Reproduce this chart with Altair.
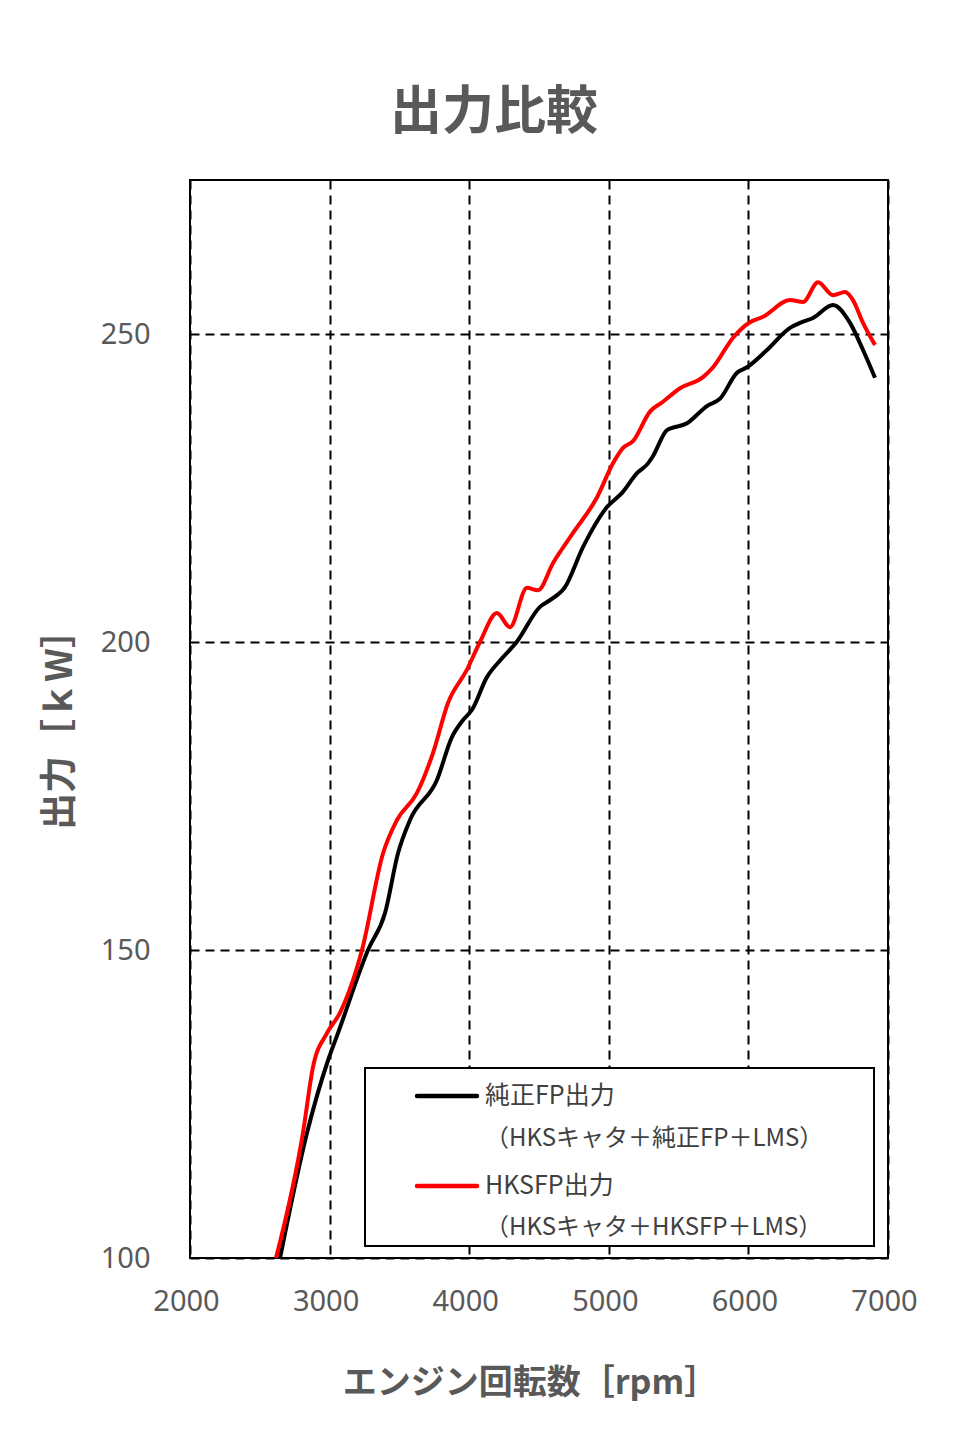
import altair as alt
import pandas as pd

# Black: 純正FP出力
rpm_std = [2645, 2838, 2989, 3060, 3275, 3397, 3490, 3576, 3769, 3877, 3955, 4020,
           4127, 4221, 4340, 4507, 4579, 4686, 4815, 4987, 5095, 5202, 5281, 5317,
           5417, 5560, 5703, 5797, 5918, 5990, 6133, 6298, 6370, 6463, 6606, 6728,
           6821, 6907]
kw_std = [100, 120.3, 132.1, 136.5, 150, 156, 165.7, 171.1, 177.6, 184.6, 187.3, 189,
          194.3, 197, 200, 205.7, 206.8, 208.9, 215.4, 221.9, 224.2, 227.4, 229, 230.2,
          234.4, 235.5, 238.3, 239.5, 243.7, 244.6, 247.4, 251, 251.8, 252.6, 254.7, 251.8,
          247.4, 242.9]

# Red: HKSFP出力
rpm_hks = [2616, 2809, 2881, 2981, 3074, 3232, 3383, 3483, 3626, 3741, 3848, 3984,
           4077, 4199, 4292, 4414, 4493, 4600, 4744, 4916, 5030, 5102, 5173, 5295,
           5388, 5510, 5675, 5747, 5890, 6011, 6105, 6298, 6391, 6499, 6606, 6692,
           6749, 6821, 6907]
kw_hks = [100, 120.3, 131, 136.5, 139.8, 150, 165.7, 171.1, 175.5, 182, 190.1, 195.5,
          200, 204.7, 202.4, 208.8, 208.4, 212.8, 217.7, 223.5, 229, 231.5, 232.6, 237.4,
          239, 241.2, 243, 244.6, 249.4, 251.9, 252.8, 255.5, 255.2, 258.4, 256.3, 256.8,
          255.5, 251.8, 248.2]

series_names = ["純正FP出力", "HKSFP出力"]
series_subs = ["（HKSキャタ＋純正FP＋LMS）", "（HKSキャタ＋HKSFP＋LMS）"]
series_colors = ["#000000", "#ff0000"]
x_ticks = [2000, 3000, 4000, 5000, 6000, 7000]
y_ticks = [100, 150, 200, 250]

df = pd.concat([
    pd.DataFrame({"rpm": rpm_std, "kw": kw_std, "series": series_names[0], "order": range(len(rpm_std))}),
    pd.DataFrame({"rpm": rpm_hks, "kw": kw_hks, "series": series_names[1], "order": range(len(rpm_hks))}),
])

FONT = "Noto Sans CJK JP"
GRAY = "#595959"
TXT = "#404040"

lines = alt.Chart(df).mark_line(strokeWidth=4, interpolate="monotone", clip=True).encode(
    x=alt.X("rpm:Q", scale=alt.Scale(domain=[2000, 7000], nice=False),
            axis=alt.Axis(values=x_ticks, title="エンジン回転数［rpm］", format="d",
                          grid=True, gridColor="#000000", gridDash=[9, 6], gridWidth=2,
                          ticks=False, domain=False, labelPadding=29, labelOffset=-4,
                          labelFontSize=29, labelColor=GRAY, labelFont="Noto Sans",
                          titleFontSize=34, titleFont=FONT, titleColor=GRAY,
                          titleFontWeight="bold", titlePadding=50, titleX=340,
                          labelFlush=False)),
    y=alt.Y("kw:Q", scale=alt.Scale(domain=[100, 275], nice=False),
            axis=alt.Axis(values=y_ticks, title="出力［ｋW］",
                          grid=True, gridColor="#000000", gridDash=[9, 6], gridWidth=2,
                          ticks=False, domain=False, labelPadding=40,
                          labelFontSize=29, labelColor=GRAY, labelFont="Noto Sans",
                          titleFontSize=37, titleFont=FONT, titleColor=GRAY,
                          titleFontWeight="bold", titlePadding=21, titleY=540,
                          labelFlush=False)),
    color=alt.Color("series:N", scale=alt.Scale(domain=series_names, range=series_colors),
                    legend=None),
    order="order:Q",
)

one = pd.DataFrame({"k": [0]})

legend_box = alt.Chart(one).mark_rect(fill="#ffffff", stroke="#000000", strokeWidth=2).encode(
    x=alt.value(175), x2=alt.value(684), y=alt.value(888), y2=alt.value(1066))

def sym(i, y):
    return alt.Chart(one).mark_rule(strokeWidth=4.5, strokeCap="round",
                                    color=series_colors[i]).encode(
        x=alt.value(227), x2=alt.value(287), y=alt.value(y))

def txt(t, y, size=24):
    return alt.Chart(one).mark_text(text=t, font=FONT, fontSize=size, color=TXT,
                                    align="left", baseline="middle").encode(
        x=alt.value(295), y=alt.value(y))

chart = alt.layer(
    lines, legend_box,
    sym(0, 916), txt(series_names[0], 916, 25), txt(series_subs[0], 959),
    sym(1, 1006), txt(series_names[1], 1006, 25), txt(series_subs[1], 1048),
).properties(
    width=698, height=1078,
    title=alt.TitleParams("出力比較", fontSize=52, font=FONT, fontWeight="bold",
                          color=GRAY, anchor="middle", dx=-45, offset=40),
    padding={"left": 182, "top": 172, "right": 58, "bottom": 174},
    autosize=alt.AutoSizeParams(type="none"),
).configure_view(stroke="#000000", strokeWidth=2)

chart.save("out.html", embed_options={"renderer": "svg", "actions": False})
